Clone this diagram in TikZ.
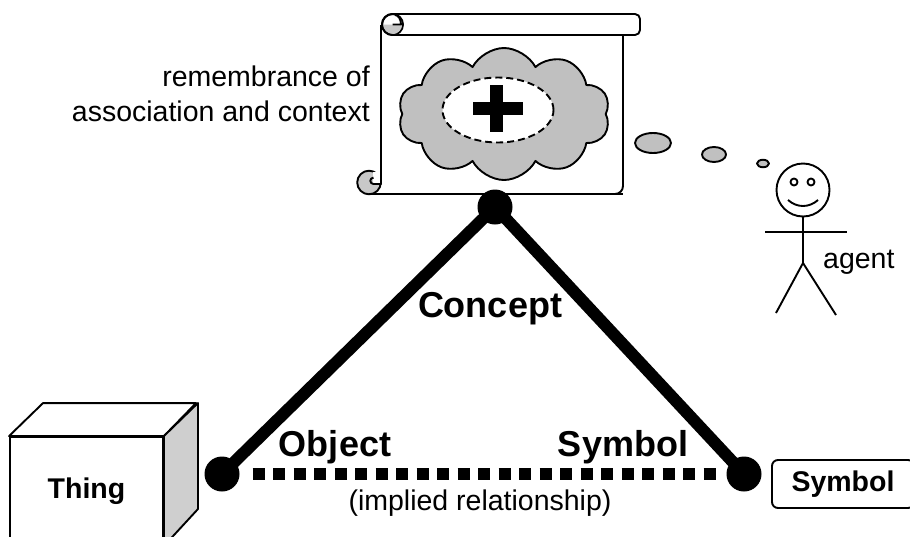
\documentclass[tikz,border=0pt]{standalone}
\usepackage{fontspec}
\setmainfont{Liberation Sans}
\usetikzlibrary{shapes.symbols,shapes.geometric,backgrounds}

\definecolor{cloudgrey}{HTML}{C0C0C0}
\definecolor{sidegrey}{HTML}{CFCFCF}
\definecolor{curlgrey}{HTML}{C8C8C8}

\tikzset{
  outline/.style={line width=1.9, line join=round},
  vertex/.style={circle, fill=black, minimum size=35, inner sep=0},
  edgebar/.style={line width=12},
  implied/.style={line width=12, dash pattern=on 12 off 8.5, shorten <=13, shorten >=10},
  biglabel/.style={font=\fontsize{36}{40}\selectfont\bfseries, anchor=base, inner sep=0},
  plainlabel/.style={font=\fontsize{28.5}{35}\selectfont, inner sep=0},
  boxlabel/.style={font=\fontsize{28.5}{34}\selectfont\bfseries},
  bubble/.style={ellipse, draw, outline, fill=cloudgrey, inner sep=0},
}

\begin{document}
\begin{tikzpicture}[x=1pt, y=-1pt]
\useasboundingbox (0,0) rectangle (910,536);

% ---- scroll holding the concept ----
% body
\fill[white] (381,35) rectangle (623,194);
\draw[outline, rounded corners=8] (623,35) -- (623,194) -- (369,194);
\draw[outline] (381,25) -- (381,184) -- (373,184);
% top roll
\draw[outline, rounded corners=5] (392.5,14) -- (640,14) -- (640,35) -- (392.5,35);
\draw[outline, fill=white] (392.5,24.5) circle (10.5);
\fill[curlgrey] (383,24.5) arc[start angle=180, end angle=0, radius=9.5] -- cycle;
\draw[outline] (392.5,24.5) -- (401,24.5) arc[start angle=0, end angle=-90, x radius=6, y radius=9.5];
\draw[outline] (392.5,14) arc[start angle=270, end angle=90, radius=10.5];
% bottom curl
\draw[outline, fill=curlgrey] (369,182.5) circle (11.8);
\fill[white] (372.5,172) rectangle (380,183);
\draw[outline] (381,172) -- (381,184) -- (373.5,184)
  arc[start angle=90, end angle=270, radius=3.2];
\draw[outline] (369,194.3) -- (623,194.3);

% cloud with the central idea
\node[cloud, cloud puffs=10, cloud puff arc=125, aspect=1.6, draw, outline,
      fill=cloudgrey, minimum width=212, minimum height=132, inner sep=0] (memory) at (504,114) {};
\node[ellipse, draw, outline, dash pattern=on 7 off 4, fill=white,
      minimum width=111, minimum height=65, inner sep=0] (idea) at (498,110) {};
\fill (473,102) rectangle (523,115);
\fill (490,85) rectangle (503,132);

% remembrance text
\node[plainlabel, align=right, anchor=north east] (memlabel) at (370,66)
  {remembrance of\\association and context};

% thought bubbles
\node[bubble, minimum width=36, minimum height=20] (b1) at (653,143) {};
\node[bubble, minimum width=24, minimum height=15] (b2) at (714,154.5) {};
\node[bubble, minimum width=12, minimum height=7.5] (b3) at (763,163.5) {};

% agent (stick figure)
\node[circle, draw, outline, minimum size=53, inner sep=0] (head) at (803,190) {};
\draw[outline] (794,182) circle (3.5);
\draw[outline] (811,182) circle (3.5);
\draw[outline] (788,200) .. controls (797,208) and (809,208) .. (818,200);
\coordinate (hip) at (803,263);
\draw[outline] (head.south) -- (hip);
\draw[outline] (765,232) -- (847,232);
\draw[outline] (hip) -- (776,313);
\draw[outline] (hip) -- (836,315);
\node[plainlabel, anchor=base west] (agent) at (823,268) {agent};

% ---- semiotic triangle ----
\node[vertex] (C) at (495,207) {};
\node[vertex] (O) at (222,474) {};
\node[vertex] (S) at (744,474) {};
\begin{scope}[on background layer]
  \draw[edgebar] (C.center) -- (O.center);
  \draw[edgebar] (C.center) -- (S.center);
\end{scope}
\draw[implied] (O) -- (S);

\node[biglabel] (conceptlabel) at (490,317) {Concept};
\node[biglabel] (objectlabel) at (335,456) {Object};
\node[biglabel] (symbollabel) at (623,456) {Symbol};
\node[plainlabel, anchor=base] (impliedlabel) at (480,510) {(implied relationship)};

% ---- the thing (cube) ----
\node[draw, outline, fill=white, minimum width=153, minimum height=108,
      inner sep=0, boxlabel] (thing) at (86.5,491) {Thing};
\draw[outline, fill=white] (thing.north west) -- ++(34,-33) -- ++(153,0)
  -- (thing.north east) -- cycle;
\draw[outline, fill=sidegrey] (thing.north east) -- ++(34,-33) -- ++(0,106)
  -- (thing.south east) -- cycle;

% ---- the symbol ----
\node[draw, outline, rounded corners=6, minimum width=142, minimum height=48,
      inner sep=0, boxlabel] (symbol) at (843,484) {Symbol};

\end{tikzpicture}
\end{document}
